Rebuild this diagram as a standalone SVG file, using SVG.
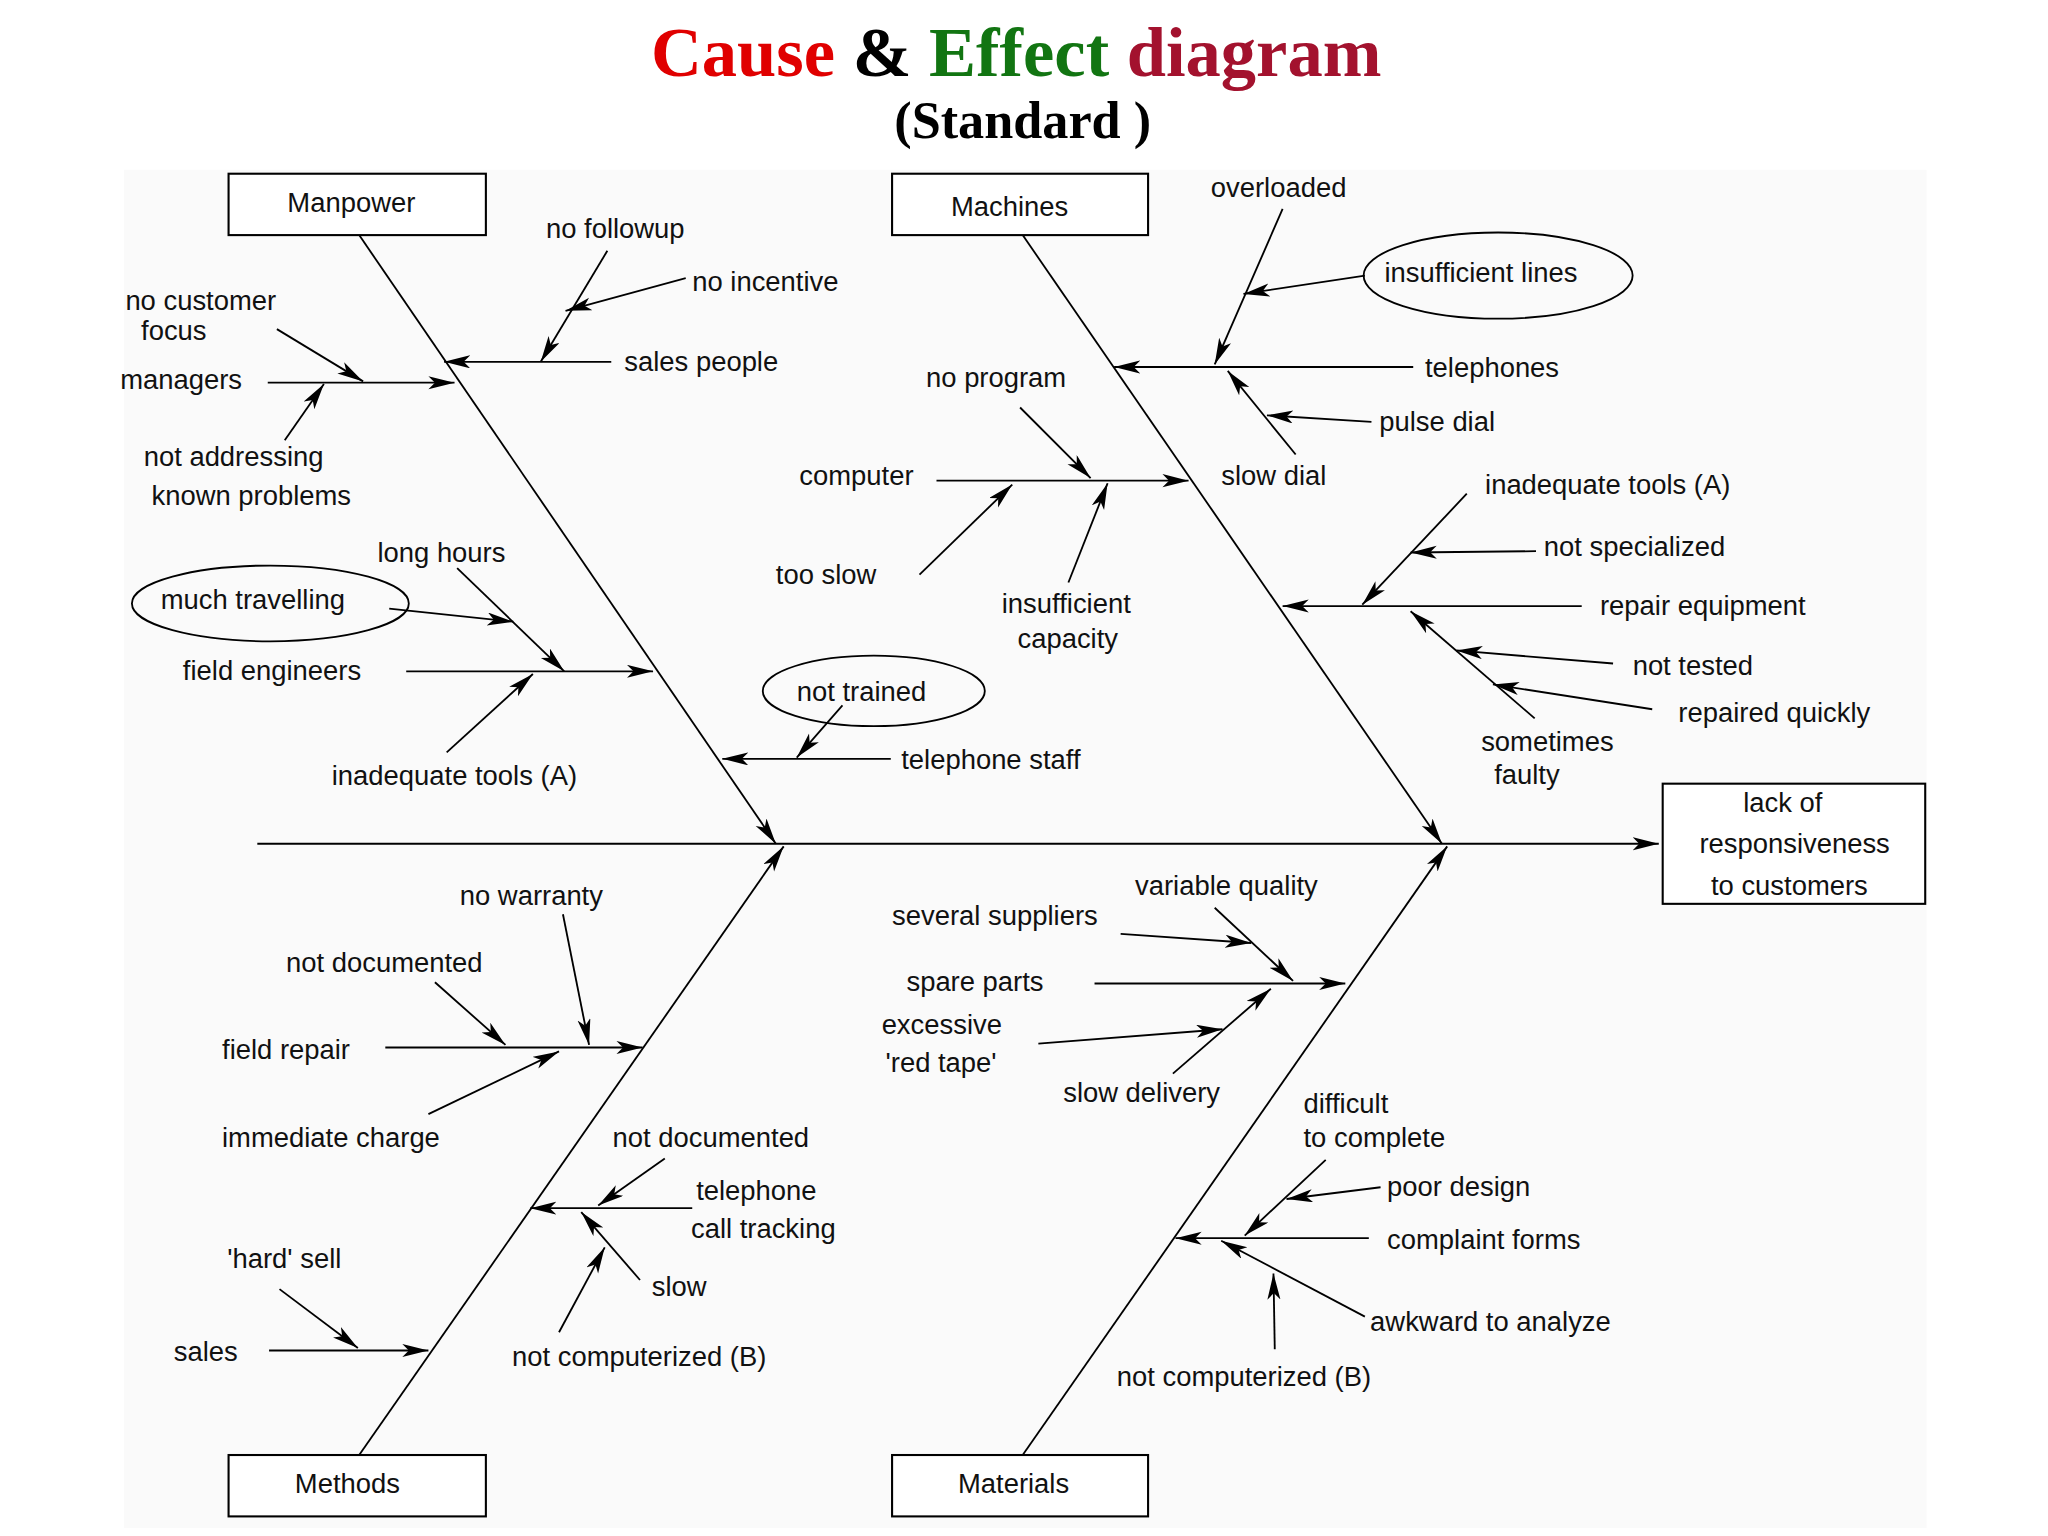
<svg xmlns="http://www.w3.org/2000/svg" width="2048" height="1536" viewBox="0 0 2048 1536">
<style>
.t{font-family:"Liberation Sans",Arial,sans-serif;font-size:21px;fill:#111}
.l{stroke:#000;stroke-width:1.6;fill:none}
.a{stroke:#000;stroke-width:1.4;fill:none;marker-end:url(#ah)}
.b{fill:#fff;stroke:#000;stroke-width:1.6}
.e{fill:none;stroke:#000;stroke-width:1.4}
</style>
<defs>
<marker id="ah" markerUnits="userSpaceOnUse" markerWidth="22" markerHeight="12" refX="20" refY="5" orient="auto">
<path d="M0,0 L20,5 L0,10 L5,5 z" fill="#000"/>
</marker>
</defs>
<rect width="2048" height="1536" fill="#fff"/>
<g transform="scale(1.30612)">
<rect x="95" y="130" width="1380" height="1040" fill="#fafafa"/>
<g id="title" font-family="Liberation Serif,Times New Roman,serif" font-weight="bold" text-anchor="middle">
<text x="778" y="58" font-size="54"><tspan fill="#e00000">Cause</tspan><tspan fill="#000"> &amp; </tspan><tspan fill="#127512">Effect</tspan><tspan fill="#a3122e"> diagram</tspan></text>
<text x="783" y="106" font-size="40" fill="#000">(Standard )</text>
</g>
<g id="connectors">
<line class="a" x1="197" y1="646" x2="1270" y2="646"/>
<line class="a" x1="275" y1="180" x2="594" y2="646"/>
<line class="a" x1="783" y1="180" x2="1104" y2="646"/>
<line class="a" x1="275" y1="1114" x2="600" y2="648"/>
<line class="a" x1="783" y1="1114" x2="1108" y2="648"/>
<line class="a" x1="205" y1="293" x2="348" y2="293"/>
<line class="a" x1="212" y1="252" x2="278" y2="292"/>
<line class="a" x1="218" y1="337" x2="248" y2="294"/>
<line class="a" x1="468" y1="277" x2="340" y2="277"/>
<line class="a" x1="465" y1="192" x2="414" y2="277"/>
<line class="a" x1="525" y1="213" x2="433" y2="238"/>
<line class="a" x1="311" y1="514" x2="500" y2="514"/>
<line class="a" x1="350" y1="435" x2="432" y2="514"/>
<line class="a" x1="298" y1="466" x2="393" y2="476"/>
<line class="a" x1="342" y1="576" x2="408" y2="516"/>
<line class="a" x1="682" y1="581" x2="553" y2="581"/>
<line class="a" x1="645" y1="540" x2="610" y2="580"/>
<line class="a" x1="1082" y1="281" x2="853" y2="281"/>
<line class="a" x1="982" y1="160" x2="930" y2="279"/>
<line class="a" x1="1045" y1="211" x2="952" y2="225"/>
<line class="a" x1="1050" y1="323" x2="970" y2="318"/>
<line class="a" x1="992" y1="348" x2="940" y2="284"/>
<line class="a" x1="717" y1="368" x2="910" y2="368"/>
<line class="a" x1="781" y1="312" x2="835" y2="366"/>
<line class="a" x1="704" y1="440" x2="775" y2="371"/>
<line class="a" x1="818" y1="446" x2="848" y2="370"/>
<line class="a" x1="1211" y1="464" x2="982" y2="464"/>
<line class="a" x1="1123" y1="378" x2="1043" y2="463"/>
<line class="a" x1="1176" y1="422" x2="1080" y2="423"/>
<line class="a" x1="1235" y1="508" x2="1115" y2="498"/>
<line class="a" x1="1265" y1="543" x2="1143" y2="524"/>
<line class="a" x1="1175" y1="550" x2="1080" y2="468"/>
<line class="a" x1="295" y1="802" x2="492" y2="802"/>
<line class="a" x1="431" y1="700" x2="451" y2="800"/>
<line class="a" x1="333" y1="752" x2="387" y2="800"/>
<line class="a" x1="328" y1="853" x2="428" y2="805"/>
<line class="a" x1="530" y1="925" x2="406" y2="925"/>
<line class="a" x1="509" y1="887" x2="458" y2="923"/>
<line class="a" x1="490" y1="980" x2="445" y2="928"/>
<line class="a" x1="428" y1="1020" x2="463" y2="955"/>
<line class="a" x1="206" y1="1034" x2="328" y2="1034"/>
<line class="a" x1="214" y1="987" x2="274" y2="1032"/>
<line class="a" x1="838" y1="753" x2="1030" y2="753"/>
<line class="a" x1="930" y1="695" x2="990" y2="751"/>
<line class="a" x1="858" y1="715" x2="958" y2="722"/>
<line class="a" x1="795" y1="799" x2="936" y2="788"/>
<line class="a" x1="898" y1="822" x2="973" y2="757"/>
<line class="a" x1="1048" y1="948" x2="900" y2="948"/>
<line class="a" x1="1015" y1="888" x2="953" y2="946"/>
<line class="a" x1="1057" y1="909" x2="985" y2="918"/>
<line class="a" x1="1045" y1="1008" x2="935" y2="950"/>
<line class="a" x1="976" y1="1033" x2="975" y2="975"/>
</g>
<g id="manpower"><rect class="b" x="175" y="133" width="197" height="47"/><text class="t" x="269" y="162" text-anchor="middle">Manpower</text></g>
<g id="machines"><rect class="b" x="683" y="133" width="196" height="47"/><text class="t" x="773" y="165" text-anchor="middle">Machines</text></g>
<g id="methods"><rect class="b" x="175" y="1114" width="197" height="47"/><text class="t" x="266" y="1143" text-anchor="middle">Methods</text></g>
<g id="materials"><rect class="b" x="683" y="1114" width="196" height="47"/><text class="t" x="776" y="1143" text-anchor="middle">Materials</text></g>
<g id="effect"><rect class="b" x="1273" y="600" width="201" height="92"/>
<text class="t" text-anchor="middle"><tspan x="1365" y="622">lack of</tspan><tspan x="1374" y="653">responsiveness</tspan><tspan x="1370" y="685">to customers</tspan></text></g>
<g id="ellipses">
<ellipse class="e" cx="207" cy="462" rx="106" ry="29"/>
<ellipse class="e" cx="669" cy="529" rx="85" ry="27"/>
<ellipse class="e" cx="1147" cy="211" rx="103" ry="33"/>
</g>
<g id="labels" class="t">
<text class="t" x="96" y="237">no customer</text><text class="t" x="108" y="260">focus</text>
<text class="t" x="92" y="298">managers</text>
<text class="t" x="110" y="357">not addressing</text><text class="t" x="116" y="387">known problems</text>
<text class="t" x="418" y="182">no followup</text>
<text class="t" x="530" y="223">no incentive</text>
<text class="t" x="478" y="284">sales people</text>
<text class="t" x="289" y="430">long hours</text>
<text class="t" x="123" y="466">much travelling</text>
<text class="t" x="140" y="521">field engineers</text>
<text class="t" x="254" y="601">inadequate tools (A)</text>
<text class="t" x="610" y="537">not trained</text>
<text class="t" x="690" y="589">telephone staff</text>
<text class="t" x="927" y="151">overloaded</text>
<text class="t" x="1060" y="216">insufficient lines</text>
<text class="t" x="1091" y="289">telephones</text>
<text class="t" x="1056" y="330">pulse dial</text>
<text class="t" x="935" y="371">slow dial</text>
<text class="t" x="709" y="296">no program</text>
<text class="t" x="612" y="371">computer</text>
<text class="t" x="594" y="447">too slow</text>
<text class="t" x="767" y="469">insufficient</text><text class="t" x="779" y="496">capacity</text>
<text class="t" x="1137" y="378">inadequate tools (A)</text>
<text class="t" x="1182" y="426">not specialized</text>
<text class="t" x="1225" y="471">repair equipment</text>
<text class="t" x="1250" y="517">not tested</text>
<text class="t" x="1285" y="553">repaired quickly</text>
<text class="t" x="1134" y="575">sometimes</text><text class="t" x="1144" y="600">faulty</text>
<text class="t" x="352" y="693">no warranty</text>
<text class="t" x="219" y="744">not documented</text>
<text class="t" x="170" y="811">field repair</text>
<text class="t" x="170" y="878">immediate charge</text>
<text class="t" x="469" y="878">not documented</text>
<text class="t" x="533" y="919">telephone</text><text class="t" x="529" y="948">call tracking</text>
<text class="t" x="499" y="992">slow</text>
<text class="t" x="392" y="1046">not computerized (B)</text>
<text class="t" x="174" y="971">'hard' sell</text>
<text class="t" x="133" y="1042">sales</text>
<text class="t" x="869" y="685">variable quality</text>
<text class="t" x="683" y="708">several suppliers</text>
<text class="t" x="694" y="759">spare parts</text>
<text class="t" x="675" y="792">excessive</text><text class="t" x="678" y="821">'red tape'</text>
<text class="t" x="814" y="844">slow delivery</text>
<text class="t" x="998" y="852">difficult</text><text class="t" x="998" y="878">to complete</text>
<text class="t" x="1062" y="916">poor design</text>
<text class="t" x="1062" y="956">complaint forms</text>
<text class="t" x="1049" y="1019">awkward to analyze</text>
<text class="t" x="855" y="1061">not computerized (B)</text>
</g>
</g>
</svg>
